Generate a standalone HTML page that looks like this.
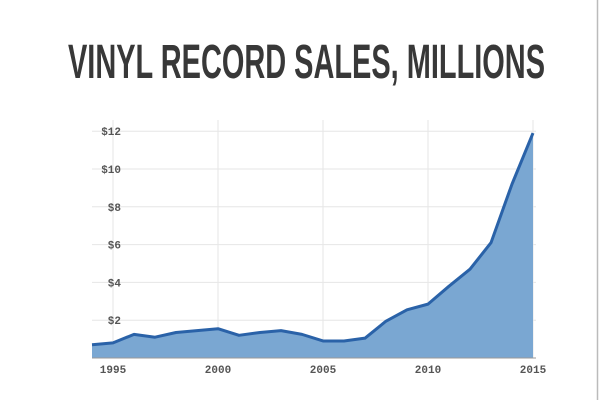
<!DOCTYPE html>
<html><head><meta charset="utf-8"><style>
html,body{margin:0;padding:0;background:#fff;width:600px;height:400px;overflow:hidden}
svg{display:block}
</style></head><body>
<svg width="600" height="400" viewBox="0 0 600 400">
<rect x="0" y="0" width="600" height="400" fill="#fff"/>
<line x1="597.5" y1="0" x2="597.5" y2="400" stroke="#bbb" stroke-width="1.5"/>
<text x="68" y="78" font-family="'Liberation Sans Narrow','Liberation Sans',sans-serif" font-size="48" font-weight="bold" fill="#383838" textLength="477" lengthAdjust="spacingAndGlyphs">VINYL RECORD SALES, MILLIONS</text>
<g id="grid"></g>
<g id="area"></g>
<g id="yticks"></g>
<g id="xticks"></g>
</svg>
<script>
const years = [1994,1995,1996,1997,1998,1999,2000,2001,2002,2003,2004,2005,2006,2007,2008,2009,2010,2011,2012,2013,2014,2015];
const sales = [0.7,0.8,1.25,1.1,1.35,1.45,1.55,1.2,1.35,1.45,1.25,0.9,0.9,1.05,1.95,2.55,2.85,3.8,4.7,6.1,9.2,11.9];
const yTickValues = [2,4,6,8,10,12];
const yTickLabels = ["$2","$4","$6","$8","$10","$12"];
const xTickValues = [1995,2000,2005,2010,2015];
const xTickLabels = ["1995","2000","2005","2010","2015"];

const NS="http://www.w3.org/2000/svg";
const x = yr => 113 + (yr-1995)*21;
const y = v => 358 - v*18.9;
function mk(tag, attrs, parent){const e=document.createElementNS(NS,tag);for(const k in attrs)e.setAttribute(k,attrs[k]);parent.appendChild(e);return e;}
const grid=document.getElementById('grid'), area=document.getElementById('area'), yt=document.getElementById('yticks'), xt=document.getElementById('xticks');
const font="'Liberation Mono','DejaVu Sans Mono',monospace";
yTickValues.forEach((v,i)=>{
  const l=mk('line',{x1:92,x2:536,y1:y(v),y2:y(v),stroke:'#e6e6e6','stroke-width':1},grid);
  
  
  const t=mk('text',{x:121,y:y(v)+4,'text-anchor':'end','font-family':font,'font-size':11,'font-weight':'bold',fill:'#555'},yt);
  t.textContent=yTickLabels[i];
  
  
});
xTickValues.forEach((v,i)=>{
  const l=mk('line',{x1:x(v),x2:x(v),y1:120,y2:358,stroke:'#e6e6e6','stroke-width':1},grid);
  
  
  const t=mk('text',{x:x(v),y:373,'text-anchor':'middle','font-family':font,'font-size':11,'font-weight':'bold',fill:'#555'},xt);
  t.textContent=xTickLabels[i];
  
  
});
let pts=years.map((yr,i)=>x(yr)+','+y(sales[i])).join(' L');
const fill=mk('path',{d:'M'+x(years[0])+','+y(0)+' L'+pts+' L'+x(years[years.length-1])+','+y(0)+' Z',fill:'#7aa7d2'},area);


const line=mk('path',{d:'M'+pts,fill:'none',stroke:'#2a62a8','stroke-width':3,'stroke-linejoin':'round'},area);


const base=mk('line',{x1:92,x2:536,y1:y(0),y2:y(0),stroke:'#999','stroke-width':1},xt);


</script>
</body></html>
